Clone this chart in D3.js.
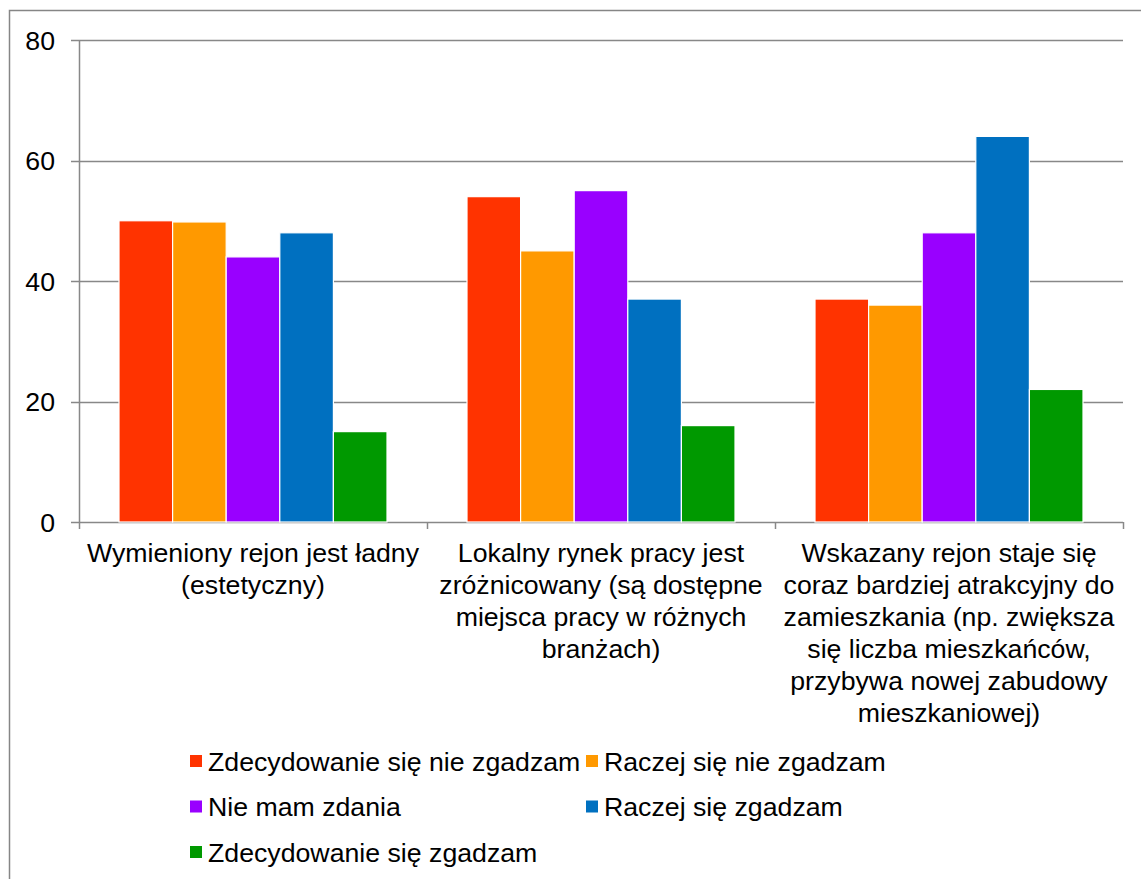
<!DOCTYPE html>
<html>
<head>
<meta charset="utf-8">
<script src="https://cdn.jsdelivr.net/npm/d3@7"></script>
<style>
  body { margin: 0; background: #fff; }
  svg { display: block; font-family: 'Liberation Sans', Arial, sans-serif; }
</style>
</head>
<body>
<div id="chart"></div>
<script>
const categories = [
  ['Wymieniony rejon jest ładny', '(estetyczny)'],
  ['Lokalny rynek pracy jest', 'zróżnicowany (są dostępne', 'miejsca pracy w różnych', 'branżach)'],
  ['Wskazany rejon staje się', 'coraz bardziej atrakcyjny do', 'zamieszkania (np. zwiększa', 'się liczba mieszkańców,', 'przybywa nowej zabudowy', 'mieszkaniowej)'],
];
const seriesNames = [
  'Zdecydowanie się nie zgadzam',
  'Raczej się nie zgadzam',
  'Nie mam zdania',
  'Raczej się zgadzam',
  'Zdecydowanie się zgadzam',
];
const seriesColors = ['#FF3300', '#FF9900', '#9900FF', '#0070C0', '#009900'];
const values = [
  [50, 54, 37],
  [49.8, 45, 36],
  [44, 55, 48],
  [48, 37, 64],
  [15, 16, 22],
];
const yTicks = [0, 20, 40, 60, 80];

const width = 1141;
const height = 879;
const margin = { top: 40, right: 18, bottom: 357, left: 79 };
const innerW = width - margin.left - margin.right;
const innerH = height - margin.top - margin.bottom;
const fontSize = 26.7;

const svg = d3
  .select('#chart')
  .append('svg')
  .attr('width', width)
  .attr('height', height);

// outer frame (runs off the right and bottom edges)
svg
  .append('rect')
  .attr('x', 9.5)
  .attr('y', 10.5)
  .attr('width', width + 20)
  .attr('height', height + 20)
  .attr('fill', 'none')
  .attr('stroke', '#868686')
  .attr('stroke-width', 1.5);

const g = svg
  .append('g')
  .attr('transform', `translate(${margin.left},${margin.top})`);

const x0 = d3
  .scaleBand()
  .domain(d3.range(categories.length))
  .range([0, innerW]);

const x1 = d3
  .scaleBand()
  .domain(d3.range(seriesNames.length))
  .range([40, x0.bandwidth() - 40]);

const y = d3.scaleLinear().domain([0, 80]).range([innerH, 0]);

// gridlines + y ticks
g.selectAll('.grid')
  .data(yTicks)
  .join('line')
  .attr('class', 'grid')
  .attr('x1', -8)
  .attr('x2', innerW)
  .attr('y1', (d) => Math.round(y(d)) + 0.5)
  .attr('y2', (d) => Math.round(y(d)) + 0.5)
  .attr('stroke', '#888')
  .attr('stroke-width', 1.5);

g.selectAll('.ylab')
  .data(yTicks)
  .join('text')
  .attr('class', 'ylab')
  .attr('x', -24)
  .attr('y', (d) => y(d))
  .attr('dy', '0.36em')
  .attr('text-anchor', 'end')
  .attr('font-size', fontSize)
  .attr('fill', '#000')
  .text((d) => d);

// y axis line
g.append('line')
  .attr('x1', 0.5)
  .attr('x2', 0.5)
  .attr('y1', 0)
  .attr('y2', innerH)
  .attr('stroke', '#888')
  .attr('stroke-width', 1.5);

// category ticks
const catTicks = d3.range(categories.length + 1).map((i) =>
  i < categories.length ? x0(i) : innerW
);
g.selectAll('.ctick')
  .data(catTicks)
  .join('line')
  .attr('class', 'ctick')
  .attr('x1', (d) => Math.round(d) + 0.5)
  .attr('x2', (d) => Math.round(d) + 0.5)
  .attr('y1', innerH)
  .attr('y2', innerH + 7)
  .attr('stroke', '#888')
  .attr('stroke-width', 1.5);

// bars
const groups = g
  .selectAll('.series')
  .data(values)
  .join('g')
  .attr('class', 'series')
  .attr('fill', (d, i) => seriesColors[i]);

groups
  .selectAll('rect')
  .data((d, i) => d.map((v, c) => ({ v, c, s: i })))
  .join('rect')
  .attr('x', (d) => x0(d.c) + x1(d.s))
  .attr('y', (d) => y(d.v))
  .attr('width', x1.bandwidth())
  .attr('height', (d) => innerH - y(d.v))
  .attr('stroke', '#fff')
  .attr('stroke-width', 1.2);

// category labels
const catLabels = g
  .selectAll('.clab')
  .data(categories)
  .join('text')
  .attr('class', 'clab')
  .attr('text-anchor', 'middle')
  .attr('font-size', fontSize)
  .attr('fill', '#000');

catLabels
  .selectAll('tspan')
  .data((d, i) => d.map((line) => ({ line, i })))
  .join('tspan')
  .attr('x', (d) => x0(d.i) + x0.bandwidth() / 2)
  .attr('y', (d, j) => innerH + 40 + j * 32)
  .text((d) => d.line);

// legend
const legend = svg.append('g').attr('transform', 'translate(190,761)');
const items = legend
  .selectAll('.item')
  .data(seriesNames)
  .join('g')
  .attr('class', 'item')
  .attr(
    'transform',
    (d, i) => `translate(${(i % 2) * 396},${Math.floor(i / 2) * 45.5})`
  );

items
  .append('rect')
  .attr('x', 0)
  .attr('y', -6)
  .attr('width', 12)
  .attr('height', 12)
  .attr('fill', (d, i) => seriesColors[i]);

items
  .append('text')
  .attr('x', 18)
  .attr('y', 0)
  .attr('dy', '0.36em')
  .attr('font-size', fontSize)
  .attr('fill', '#000')
  .text((d) => d);
</script>
</body>
</html>
